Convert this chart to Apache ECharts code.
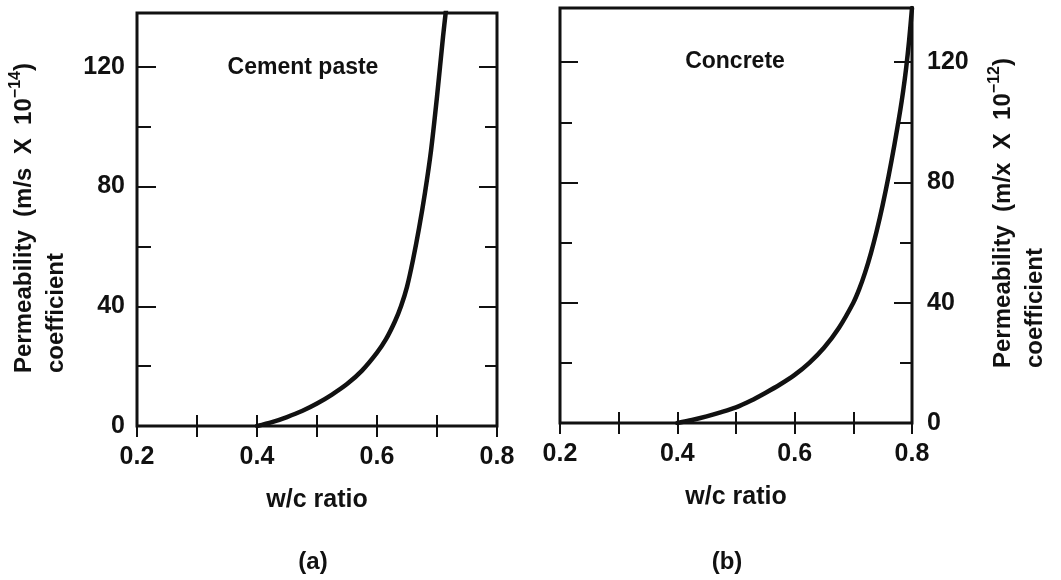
<!DOCTYPE html>
<html>
<head>
<meta charset="utf-8">
<script src="https://cdn.jsdelivr.net/npm/echarts@6/dist/echarts.min.js"></script>
<style>
  html, body { margin: 0; padding: 0; background: #ffffff; }
  #chart { width: 1061px; height: 580px; }
</style>
</head>
<body>
<div id="chart"></div>
<script>
// Tick labels shown on the axes
const xTickLabels = [0.2, 0.4, 0.6, 0.8];
const yTickLabels = [0, 40, 80, 120];

// (a) Cement paste: w/c ratio vs permeability coefficient (m/s x 10^-14)
const pasteWc = [0.40, 0.425, 0.45, 0.475, 0.50, 0.525, 0.55, 0.575, 0.60, 0.615, 0.63, 0.64,
                 0.65, 0.66, 0.67, 0.68, 0.69, 0.70, 0.71, 0.715];
const pastePerm = [0, 1.3, 3, 5, 7.5, 10.5, 14, 18.5, 24.5, 29, 35, 40,
                   46.5, 55.5, 66, 78, 92, 110, 130, 139];

// (b) Concrete: w/c ratio vs permeability coefficient (m/x x 10^-12)
const concreteWc = [0.40, 0.425, 0.45, 0.475, 0.50, 0.525, 0.55, 0.575, 0.60, 0.625, 0.65, 0.675,
                    0.70, 0.71, 0.72, 0.73, 0.74, 0.75, 0.76, 0.77, 0.78, 0.785, 0.79, 0.795, 0.80];
const concretePerm = [0, 1, 2.2, 3.6, 5.2, 7.4, 10, 12.8, 16, 20, 25, 31.5,
                      40, 44.5, 50, 56.5, 64, 72.5, 82, 92.5, 104, 110.5, 118, 127, 138];

const panelNotes = ['Cement paste', 'Concrete'];
const panelTags = ['(a)', '(b)'];
const xTitle = 'w/c ratio';
const yTitleUnits = ['m/s', 'm/x'];
const yTitleExp = ['\u221214', '\u221212'];

const FONT = 'Liberation Sans, Arial, Helvetica, sans-serif';
const INK = '#111111';
const Y_MAX = 138;

const grids = [
  { left: 137, top: 13, width: 360, height: 413 },
  { left: 560, top: 8, width: 352, height: 415 }
];

function fmtX(v) {
  return xTickLabels.some(t => Math.abs(t - v) < 1e-6) ? v.toFixed(1) : '';
}
function fmtY(v) {
  return yTickLabels.some(t => Math.abs(t - v) < 1e-6) ? String(Math.round(v)) : '';
}

function xAxisFor(gridIndex, position) {
  const bottom = position === 'bottom';
  return {
    type: 'value', gridIndex, position,
    min: 0.2, max: 0.8, interval: 0.1,
    axisLine: { show: false },
    splitLine: { show: false },
    axisTick: { show: true, inside: true, length: 11, lineStyle: { color: INK, width: 2 } },
    axisLabel: {
      show: bottom, formatter: fmtX, margin: 19,
      color: INK, fontFamily: FONT, fontWeight: 'bold', fontSize: 25
    },
    name: bottom ? xTitle : '',
    nameLocation: 'middle', nameGap: 62,
    nameTextStyle: { color: INK, fontFamily: FONT, fontWeight: 'bold', fontSize: 25 }
  };
}

function yAxisFor(gridIndex, position, interval, len, labels) {
  return {
    type: 'value', gridIndex, position,
    min: 0, max: Y_MAX, interval,
    axisLine: { show: false },
    splitLine: { show: false },
    axisTick: { show: true, inside: true, length: len, lineStyle: { color: INK, width: 2 } },
    axisLabel: {
      show: labels, formatter: fmtY, margin: position === 'left' ? 12 : 15,
      showMaxLabel: false,
      color: INK, fontFamily: FONT, fontWeight: 'bold', fontSize: 25
    }
  };
}

const xAxes = [
  xAxisFor(0, 'bottom'), xAxisFor(0, 'top'),
  xAxisFor(1, 'bottom'), xAxisFor(1, 'top')
];
const yAxes = [
  yAxisFor(0, 'left', 20, 14, false), yAxisFor(0, 'left', 40, 19, true),
  yAxisFor(0, 'right', 20, 12, false), yAxisFor(0, 'right', 40, 18, false),
  yAxisFor(1, 'left', 20, 12, false), yAxisFor(1, 'left', 40, 18, false),
  yAxisFor(1, 'right', 20, 12, false), yAxisFor(1, 'right', 40, 18, true)
];

function zip(xs, ys) { return xs.map((x, i) => [x, ys[i]]); }

function curve(name, xIdx, yIdx, xs, ys) {
  return {
    name, type: 'line', xAxisIndex: xIdx, yAxisIndex: yIdx,
    data: zip(xs, ys), showSymbol: false, symbol: 'none',
    smooth: 0.3, clip: true,
    lineStyle: { color: INK, width: 4.5, cap: 'round', join: 'round' }, silent: true
  };
}

function yTitle(x, y, i) {
  return {
    type: 'text', x, y, rotation: Math.PI / 2,
    style: {
      text: '{m|Permeability  (' + yTitleUnits[i] + '  X  10}{s|' + yTitleExp[i] + '}{m|)}\n{m|coefficient}',
      align: 'left', verticalAlign: 'top',
      rich: {
        m: { fontFamily: FONT, fontWeight: 'bold', fontSize: 24, lineHeight: 32, fill: INK, color: INK },
        s: { fontFamily: FONT, fontWeight: 'bold', fontSize: 16, lineHeight: 32, verticalAlign: 'top', fill: INK, color: INK }
      }
    }
  };
}

function plainText(x, y, text, size) {
  return {
    type: 'text', x, y,
    style: {
      text, align: 'center', verticalAlign: 'middle',
      fontFamily: FONT, fontWeight: 'bold', fontSize: size, fill: INK
    }
  };
}

const chart = echarts.init(document.getElementById('chart'), null, { renderer: 'canvas' });
chart.setOption({
  backgroundColor: '#ffffff',
  animation: false,
  grid: grids.map(g => Object.assign({
    show: true, borderColor: INK, borderWidth: 3, backgroundColor: 'transparent'
  }, g)),
  xAxis: xAxes,
  yAxis: yAxes,
  series: [
    curve(panelNotes[0], 0, 0, pasteWc, pastePerm),
    curve(panelNotes[1], 2, 4, concreteWc, concretePerm)
  ],
  graphic: [
    yTitle(8, 373, 0),
    yTitle(987, 368, 1),
    plainText(303, 68, panelNotes[0], 23),
    plainText(735, 62, panelNotes[1], 23),
    plainText(313, 562, panelTags[0], 24),
    plainText(727, 562, panelTags[1], 24)
  ]
});
</script>
</body>
</html>
